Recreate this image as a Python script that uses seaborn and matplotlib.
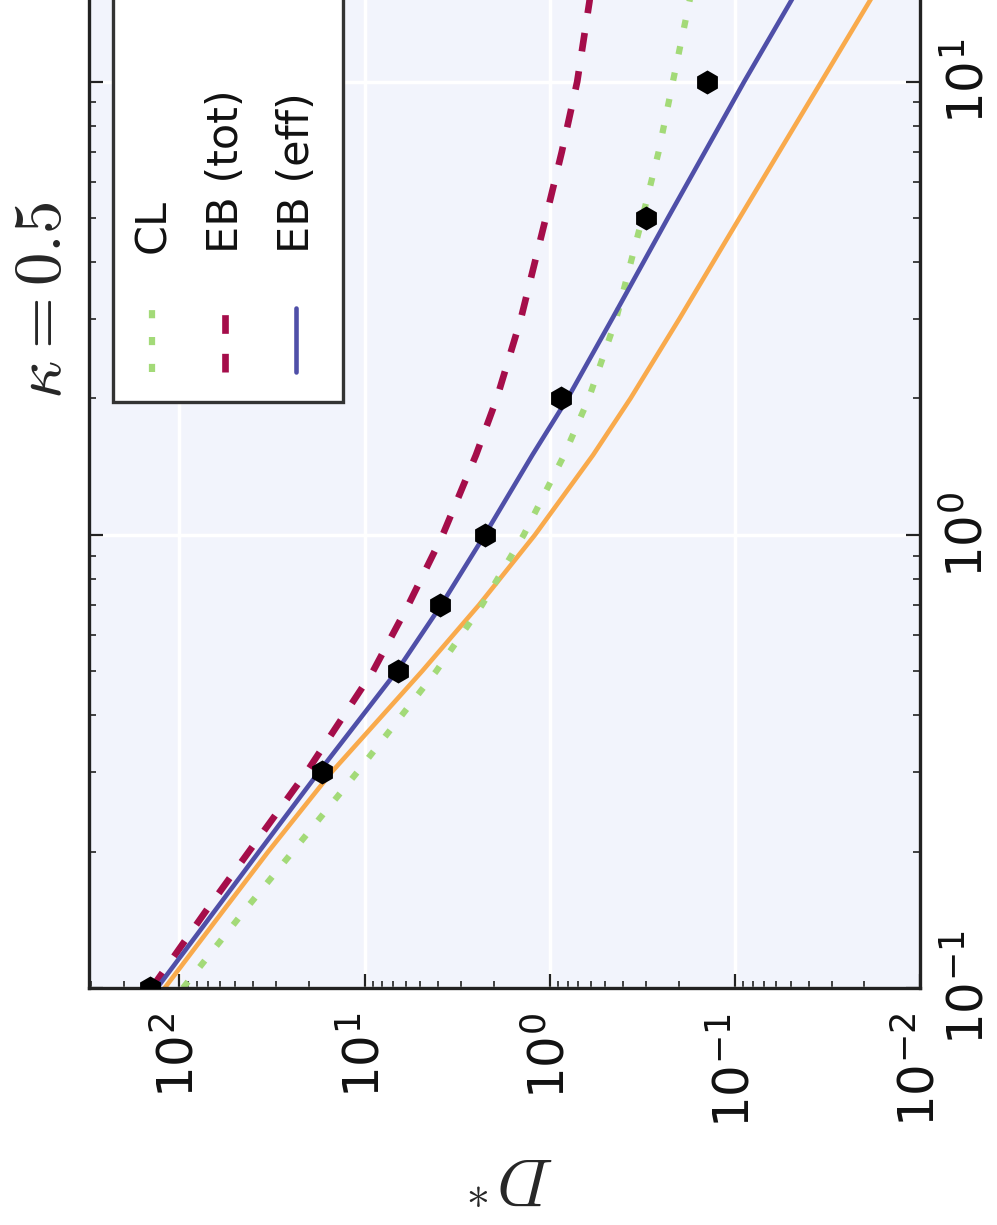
import numpy as np
import pandas as pd
import matplotlib
matplotlib.use("Agg")
import matplotlib.pyplot as plt
import seaborn as sns
from matplotlib.patches import Rectangle
from matplotlib.lines import Line2D
from matplotlib.ticker import LogLocator, NullFormatter

# ---------------- data ----------------
x_grid = [0.1, 0.15, 0.2, 0.3, 0.5, 0.7, 1.0, 1.5, 2.0, 3.0, 5.0, 7.0, 10.0, 15.0, 20.0]
d_eb_eff = [132, 62.8, 37.1, 17.6, 6.7, 3.85, 2.24, 1.24, 0.80, 0.459, 0.23, 0.145, 0.089, 0.050, 0.0335]
d_eb_tot = [141, 70.1, 42.1, 20.5, 9.0, 5.8, 3.78, 2.50, 1.93, 1.43, 1.05, 0.86, 0.71, 0.61, 0.56]
d_orange = [120, 56.6, 33.1, 15.0, 4.89, 2.41, 1.20, 0.583, 0.366, 0.199, 0.0944, 0.0576, 0.0341, 0.0188, 0.01235]
d_cl = [95.6, 43.4, 24.4, 10.9, 4.1, 2.32, 1.38, 0.835, 0.615, 0.437, 0.316, 0.258, 0.216, 0.176, 0.152]

pts_x = [0.1, 0.3, 0.5, 0.7, 1.0, 2.0, 5.0, 10.0]
pts_d = [144, 17.0, 6.6, 3.9, 2.24, 0.87, 0.30, 0.142]

legend_labels = ["CL", "EB (tot)", "EB (eff)"]
title_text = r"$\kappa = 0.5$"
ylabel_text = r"$D^{\!*}$"

# ---------------- style ----------------
BG = "#F2F4FC"
C_ORANGE = "#F9AA4C"
C_BLUE = "#4F4FA8"
C_RED = "#A50D4A"
C_GREEN = "#A3DA78"

sns.set_theme(style="darkgrid", rc={"axes.facecolor": BG, "grid.color": "white",
                                     "grid.linewidth": 2.5, "figure.facecolor": "white"})
plt.rcParams["font.family"] = ["DejaVu Sans"]
plt.rcParams["axes.unicode_minus"] = False

fig = plt.figure(figsize=(9.97, 12.25), dpi=100)
ax = fig.add_axes([89 / 997, 1 - 988 / 1225, 831 / 997, 1133 / 1225])
ax.set_xscale("log")
ax.set_yscale("log")

df = pd.DataFrame({"x": x_grid, "eff": d_eb_eff, "tot": d_eb_tot, "orange": d_orange, "cl": d_cl})
pts = pd.DataFrame({"x": pts_x, "d": pts_d})

GREEN_LS = (0, (1.3, 3.0))
RED_LS = (0, (2.8, 3.0))

sns.lineplot(data=df, x="orange", y="x", sort=False, estimator=None, ax=ax,
             color=C_ORANGE, lw=3.3, zorder=2)
sns.lineplot(data=df, x="cl", y="x", sort=False, estimator=None, ax=ax,
             color=C_GREEN, lw=4.5, ls=GREEN_LS, zorder=2)
sns.lineplot(data=df, x="tot", y="x", sort=False, estimator=None, ax=ax,
             color=C_RED, lw=4.8, ls=RED_LS, zorder=3)
sns.lineplot(data=df, x="eff", y="x", sort=False, estimator=None, ax=ax,
             color=C_BLUE, lw=3.3, zorder=3)
sns.scatterplot(data=pts, x="d", y="x", marker="h", s=300, color="black",
                edgecolor="black", linewidth=0, ax=ax, zorder=5)

ax.set_xlim(10 ** 2.488, 0.01)
ax.set_ylim(0.1, 10 ** 1.5)
ax.set_xlabel("")
ax.set_ylabel("")

for axis in (ax.xaxis, ax.yaxis):
    axis.set_major_locator(LogLocator(base=10, numticks=12))
    axis.set_minor_locator(LogLocator(base=10, subs=np.arange(2, 10), numticks=40))
    axis.set_minor_formatter(NullFormatter())

ax.grid(True, which="major", color="white", lw=2.5)
ax.grid(False, which="minor")

ax.tick_params(axis="both", which="both", direction="in", top=True, bottom=True,
               left=True, right=True, color="#222222", labelcolor="#111111")
ax.tick_params(axis="both", which="major", length=10, width=1.6)
ax.tick_params(axis="both", which="minor", length=5, width=1.2)
ax.tick_params(axis="x", labelsize=36, labelrotation=90, pad=18)
ax.tick_params(axis="y", labelleft=False, labelright=True, labelsize=36,
               labelrotation=90, pad=17)
plt.setp(ax.get_yticklabels(), va="center", ha="left")

for s in ax.spines.values():
    s.set_visible(True)
    s.set_color("#222222")
    s.set_linewidth(2.4)

# ---------------- legend (drawn rotated, like the picture) ----------------
ax.add_patch(Rectangle((0.0289, 0.5172), 0.2768, 0.45, transform=ax.transAxes,
                       facecolor="white", edgecolor="#333333", lw=2.4, zorder=6))
leg_x = [0.0758, 0.1637, 0.2491]
leg_style = [dict(color=C_GREEN, lw=4.5, ls=GREEN_LS),
             dict(color=C_RED, lw=4.8, ls=RED_LS),
             dict(color=C_BLUE, lw=3.3, ls="-")]
for lx, st, lab in zip(leg_x, leg_style, legend_labels):
    ax.add_line(Line2D([lx, lx], [0.5437, 0.6002], transform=ax.transAxes, zorder=7, **st))
    ax.text(lx + 0.001, 0.6487, lab, rotation=90, ha="center", va="bottom",
            transform=ax.transAxes, fontsize=31, color="#111111", zorder=7)

fig.text(0.042, 0.755, title_text, rotation=90, fontsize=48, math_fontfamily="cm",
         ha="center", va="center")
fig.text(0.513, 0.040, ylabel_text, rotation=180, fontsize=48, math_fontfamily="cm",
         ha="center", va="center")

fig.savefig("out.png", dpi=100)
